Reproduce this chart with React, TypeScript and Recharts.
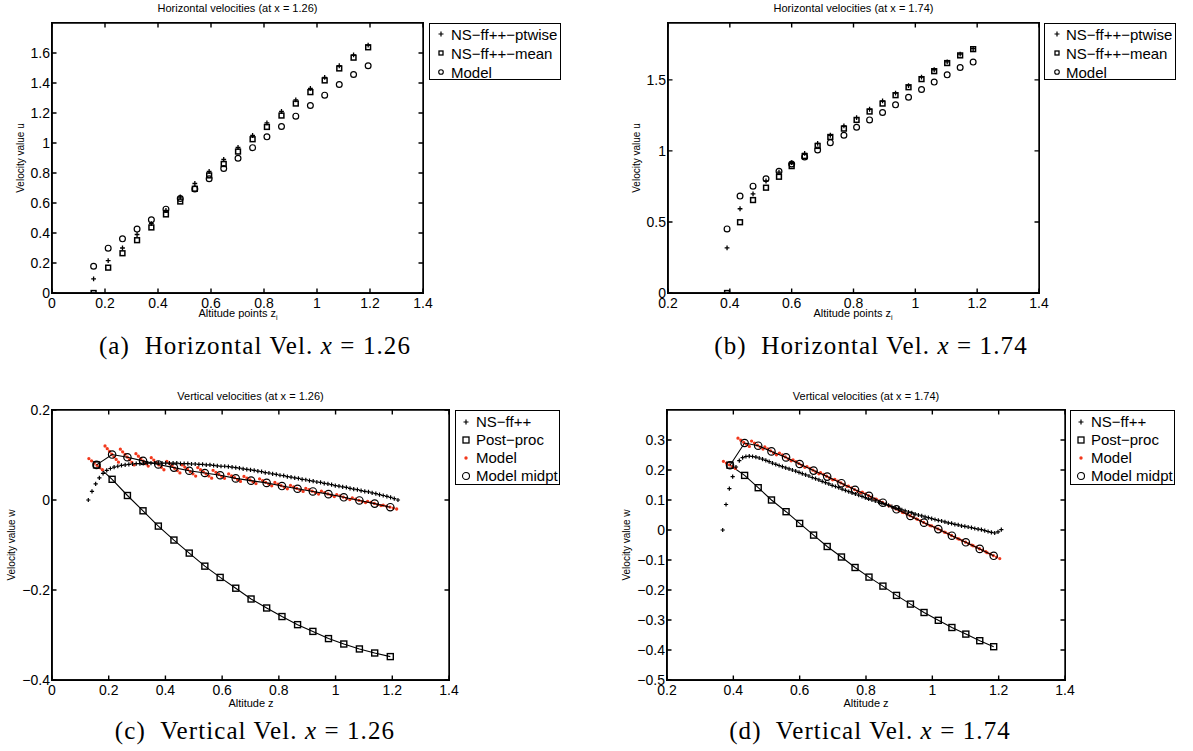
import React from "react";
import { ComposedChart, Line, ReferenceArea, Scatter, XAxis, YAxis } from "recharts";

const SANS = "'Liberation Sans', Arial, Helvetica, sans-serif";
const SERIF = "'Liberation Serif', 'Times New Roman', serif";
const RED = "#f2381c";
const FRAME = 1.4;

// ---------- (a) horizontal velocities at x = 1.26 ----------
const altA = [0.157, 0.212, 0.266, 0.321, 0.375, 0.43, 0.484, 0.539, 0.593, 0.648, 0.702, 0.757, 0.811, 0.866, 0.92, 0.975, 1.029, 1.084, 1.138, 1.193];
const ptwiseA = [0.094, 0.216, 0.3, 0.39, 0.463, 0.55, 0.64, 0.73, 0.81, 0.89, 0.97, 1.05, 1.134, 1.21, 1.288, 1.364, 1.437, 1.515, 1.587, 1.653];
const meanA = [0.0, 0.169, 0.265, 0.352, 0.437, 0.524, 0.61, 0.695, 0.784, 0.86, 0.943, 1.025, 1.107, 1.183, 1.263, 1.339, 1.417, 1.497, 1.569, 1.638];
const modelA = [0.178, 0.299, 0.361, 0.426, 0.488, 0.559, 0.63, 0.693, 0.762, 0.83, 0.898, 0.969, 1.041, 1.11, 1.179, 1.25, 1.319, 1.39, 1.457, 1.515];

// ---------- (b) horizontal velocities at x = 1.74 ----------
const altB = [0.391, 0.433, 0.475, 0.517, 0.559, 0.6, 0.642, 0.684, 0.725, 0.769, 0.81, 0.852, 0.894, 0.936, 0.978, 1.02, 1.061, 1.103, 1.145, 1.187];
const ptwiseB = [0.317, 0.593, 0.698, 0.788, 0.85, 0.917, 0.983, 1.053, 1.11, 1.176, 1.234, 1.293, 1.352, 1.406, 1.46, 1.519, 1.571, 1.627, 1.681, 1.72];
const meanB = [0.0, 0.498, 0.654, 0.741, 0.818, 0.893, 0.964, 1.035, 1.098, 1.157, 1.218, 1.277, 1.333, 1.392, 1.448, 1.505, 1.561, 1.618, 1.672, 1.716];
const modelB = [0.451, 0.682, 0.752, 0.804, 0.856, 0.908, 0.957, 1.006, 1.058, 1.11, 1.166, 1.218, 1.27, 1.324, 1.378, 1.432, 1.484, 1.535, 1.587, 1.625];

// ---------- (c) vertical velocities at x = 1.26 ----------
const nsCX = [
  0.128, 0.141, 0.154, 0.167, 0.18, 0.193, 0.206, 0.219, 0.232, 0.245,
  0.258, 0.271, 0.284, 0.297, 0.31, 0.323, 0.336, 0.349, 0.362, 0.375,
  0.388, 0.401, 0.414, 0.427, 0.44, 0.453, 0.466, 0.479, 0.492, 0.505,
  0.518, 0.531, 0.544, 0.557, 0.57, 0.583, 0.596, 0.609, 0.622, 0.635,
  0.648, 0.661, 0.674, 0.687, 0.7, 0.713, 0.726, 0.739, 0.752, 0.765,
  0.778, 0.791, 0.804, 0.817, 0.83, 0.843, 0.856, 0.869, 0.882, 0.895,
  0.908, 0.921, 0.934, 0.947, 0.96, 0.973, 0.986, 0.999, 1.012, 1.025,
  1.038, 1.051, 1.064, 1.077, 1.09, 1.103, 1.116, 1.129, 1.142, 1.155,
  1.168, 1.181, 1.194, 1.207, 1.22,
];
const nsCW = [
  0.0, 0.019, 0.036, 0.049, 0.059, 0.066, 0.07, 0.073, 0.075, 0.077,
  0.078, 0.079, 0.08, 0.081, 0.081, 0.082, 0.082, 0.082, 0.082, 0.082,
  0.082, 0.082, 0.082, 0.082, 0.082, 0.081, 0.081, 0.081, 0.08, 0.08,
  0.079, 0.079, 0.078, 0.078, 0.077, 0.076, 0.075, 0.075, 0.074, 0.073,
  0.072, 0.071, 0.069, 0.068, 0.067, 0.066, 0.064, 0.063, 0.061, 0.06,
  0.058, 0.057, 0.055, 0.054, 0.052, 0.051, 0.049, 0.048, 0.046, 0.045,
  0.043, 0.042, 0.04, 0.039, 0.037, 0.036, 0.034, 0.032, 0.031, 0.029,
  0.028, 0.026, 0.024, 0.023, 0.021, 0.019, 0.018, 0.016, 0.014, 0.012,
  0.01, 0.008, 0.006, 0.003, 0.0,
];
const midC = [0.157, 0.212, 0.266, 0.321, 0.375, 0.43, 0.484, 0.539, 0.593, 0.648, 0.702, 0.757, 0.811, 0.866, 0.92, 0.975, 1.029, 1.084, 1.138, 1.193];
const postC = [0.078, 0.046, 0.01, -0.024, -0.058, -0.089, -0.118, -0.147, -0.172, -0.196, -0.22, -0.24, -0.259, -0.277, -0.292, -0.308, -0.32, -0.331, -0.34, -0.348];
const midptC = [0.078, 0.101, 0.095, 0.087, 0.079, 0.072, 0.065, 0.06, 0.055, 0.048, 0.043, 0.038, 0.031, 0.025, 0.019, 0.013, 0.006, -0.001, -0.008, -0.016];
const modelCX0 = [0.13, 0.187, 0.241, 0.296, 0.35, 0.405, 0.459, 0.514, 0.568, 0.623, 0.677, 0.732, 0.786, 0.841, 0.895, 0.95, 1.004, 1.059, 1.113, 1.168];
const modelCW0 = [0.092, 0.12, 0.113, 0.103, 0.094, 0.086, 0.078, 0.072, 0.066, 0.058, 0.0525, 0.047, 0.039, 0.0325, 0.026, 0.0195, 0.012, 0.0045, -0.003, -0.0115];
const modelCX1 = [0.182, 0.237, 0.291, 0.346, 0.4, 0.455, 0.509, 0.564, 0.618, 0.673, 0.727, 0.782, 0.836, 0.891, 0.945, 1.0, 1.054, 1.109, 1.163, 1.218];
const modelCW1 = [0.065, 0.082, 0.077, 0.071, 0.064, 0.058, 0.052, 0.048, 0.044, 0.038, 0.0335, 0.029, 0.023, 0.0175, 0.012, 0.0065, 0.0, -0.0065, -0.013, -0.0205];

// ---------- (d) vertical velocities at x = 1.74 ----------
const nsDX = [
  0.368, 0.378, 0.388, 0.398, 0.408, 0.418, 0.428, 0.438, 0.448, 0.458,
  0.468, 0.478, 0.488, 0.498, 0.508, 0.518, 0.528, 0.538, 0.548, 0.558,
  0.568, 0.578, 0.588, 0.598, 0.608, 0.618, 0.628, 0.638, 0.648, 0.658,
  0.668, 0.678, 0.688, 0.698, 0.708, 0.718, 0.728, 0.738, 0.748, 0.758,
  0.768, 0.778, 0.788, 0.798, 0.808, 0.818, 0.828, 0.838, 0.848, 0.858,
  0.868, 0.878, 0.888, 0.898, 0.908, 0.918, 0.928, 0.938, 0.948, 0.958,
  0.968, 0.978, 0.988, 0.998, 1.008, 1.018, 1.028, 1.038, 1.048, 1.058,
  1.068, 1.078, 1.088, 1.098, 1.108, 1.118, 1.128, 1.138, 1.148, 1.158,
  1.168, 1.178, 1.188, 1.198, 1.208,
];
const nsDW = [
  0.0, 0.085, 0.138, 0.178, 0.21, 0.231, 0.241, 0.245, 0.246, 0.245,
  0.243, 0.24, 0.236, 0.232, 0.228, 0.223, 0.219, 0.215, 0.211, 0.207,
  0.204, 0.2, 0.196, 0.192, 0.188, 0.184, 0.18, 0.175, 0.171, 0.167,
  0.162, 0.158, 0.154, 0.149, 0.145, 0.141, 0.136, 0.132, 0.128, 0.124,
  0.12, 0.116, 0.112, 0.108, 0.104, 0.1, 0.097, 0.093, 0.089, 0.085,
  0.082, 0.078, 0.074, 0.071, 0.067, 0.064, 0.06, 0.057, 0.053, 0.05,
  0.047, 0.044, 0.041, 0.038, 0.035, 0.032, 0.03, 0.027, 0.024, 0.022,
  0.019, 0.017, 0.014, 0.012, 0.01, 0.008, 0.005, 0.003, 0.001, -0.002,
  -0.005, -0.008, -0.01, -0.006, 0.001,
];
const midD = [0.39, 0.434, 0.475, 0.515, 0.559, 0.6, 0.642, 0.683, 0.726, 0.767, 0.809, 0.851, 0.892, 0.934, 0.975, 1.018, 1.059, 1.101, 1.143, 1.185];
const postD = [0.216, 0.182, 0.141, 0.1, 0.061, 0.022, -0.017, -0.055, -0.09, -0.125, -0.157, -0.187, -0.218, -0.247, -0.275, -0.301, -0.325, -0.347, -0.369, -0.389];
const midptD = [0.216, 0.29, 0.281, 0.262, 0.242, 0.22, 0.198, 0.178, 0.156, 0.134, 0.114, 0.091, 0.069, 0.047, 0.0245, 0.003, -0.019, -0.041, -0.063, -0.086];
const modelDX0 = [0.37, 0.414, 0.455, 0.495, 0.539, 0.58, 0.622, 0.663, 0.706, 0.747, 0.789, 0.831, 0.872, 0.914, 0.955, 0.998, 1.039, 1.081, 1.123, 1.165];
const modelDW0 = [0.229, 0.306, 0.2965, 0.277, 0.2565, 0.234, 0.2115, 0.191, 0.1685, 0.146, 0.126, 0.1025, 0.0805, 0.058, 0.0355, 0.014, -0.008, -0.0305, -0.0525, -0.0755];
const modelDX1 = [0.41, 0.454, 0.495, 0.535, 0.579, 0.62, 0.662, 0.703, 0.746, 0.787, 0.829, 0.871, 0.912, 0.954, 0.995, 1.038, 1.079, 1.121, 1.163, 1.205];
const modelDW1 = [0.203, 0.274, 0.2655, 0.247, 0.2275, 0.206, 0.1845, 0.165, 0.1435, 0.122, 0.102, 0.0795, 0.0575, 0.036, 0.0135, -0.008, -0.03, -0.0515, -0.0735, -0.096];

// ---------- axes ----------
const ticks0to14 = [0, 0.2, 0.4, 0.6, 0.8, 1, 1.2, 1.4];
const ticks02to14 = [0.2, 0.4, 0.6, 0.8, 1, 1.2, 1.4];
const uTicksA = [0, 0.2, 0.4, 0.6, 0.8, 1, 1.2, 1.4, 1.6];
const uTicksB = [0, 0.5, 1, 1.5];
const wTicksC = [-0.4, -0.2, 0, 0.2];
const wTicksD = [-0.5, -0.4, -0.3, -0.2, -0.1, 0, 0.1, 0.2, 0.3];

const pts = (xs: number[], ys: number[]) => xs.map((x, i) => ({ x, y: ys[i] }));
const segs = (x0: number[], y0: number[], x1: number[], y1: number[]) =>
  x0.flatMap((x, i) => [
    { x, y: y0[i] },
    { x: x1[i], y: y1[i] },
    { x: x1[i], y: null },
  ]);

const fmt = (v: number) => (v < 0 ? "\u2212" + String(-v) : String(v));

// ---------- marker shapes ----------
const plus = (h: number, w: number) => (p: any) => (
  <path d={`M${p.cx - h},${p.cy}H${p.cx + h}M${p.cx},${p.cy - h}V${p.cy + h}`} stroke="#000" strokeWidth={w} fill="none" />
);
const square = (s: number, w: number) => (p: any) => (
  <rect key={`sq${p.index}`} x={p.cx - s / 2} y={p.cy - s / 2} width={s} height={s} stroke="#000" strokeWidth={w} fill="none" />
);
const circle = (r: number, w: number) => (p: any) => (
  <circle key={`ci${p.index}`} cx={p.cx} cy={p.cy} r={r} stroke="#000" strokeWidth={w} fill="none" />
);

type PanelProps = {
  left: number;
  top: number;
  width: number;
  height: number;
  box: [number, number, number, number]; // plot left, top, right, bottom (page px)
  xDomain: [number, number];
  xTicks: number[];
  yDomain: [number, number];
  yTicks: number[];
  children: React.ReactNode;
};

const TICK = 4.5;

function Panel({ left, top, width, height, box, xDomain, xTicks, yDomain, yTicks, children }: PanelProps) {
  const pl = box[0] - left;
  const pt = box[1] - top;
  const pr = box[2] - left;
  const pb = box[3] - top;
  // Matlab style: inward ticks on all four sides, labels outside
  const xTick = (p: any) => (
    <g>
      <path d={`M${p.x},${pb}V${pb - TICK}M${p.x},${pt}V${pt + TICK}`} stroke="#000" strokeWidth={FRAME} fill="none" />
      <text x={p.x} y={pb + 15} textAnchor="middle" fontSize={14} fill="#000" fontFamily={SANS}>
        {fmt(p.payload.value)}
      </text>
    </g>
  );
  const yTick = (p: any) => (
    <g>
      <path d={`M${pl},${p.y}H${pl + TICK}M${pr},${p.y}H${pr - TICK}`} stroke="#000" strokeWidth={FRAME} fill="none" />
      <text x={pl - 2} y={p.y + 5} textAnchor="end" fontSize={14} fill="#000" fontFamily={SANS}>
        {fmt(p.payload.value)}
      </text>
    </g>
  );
  return (
    <div style={{ position: "absolute", left, top, width, height }}>
      <ComposedChart
        width={width}
        height={height}
        margin={{ top: pt, right: width - pr, bottom: 0, left: 0 }}
        style={{ fontFamily: SANS }}
      >
        <XAxis
          xAxisId="b"
          type="number"
          dataKey="x"
          domain={xDomain}
          ticks={xTicks}
          interval={0}
          allowDataOverflow
          height={height - pb}
          axisLine={{ stroke: "#000", strokeWidth: FRAME }}
          tickLine={false}
          tick={xTick}
        />
        <YAxis
          yAxisId="l"
          type="number"
          dataKey="y"
          domain={yDomain}
          ticks={yTicks}
          interval={0}
          allowDataOverflow
          width={pl}
          axisLine={{ stroke: "#000", strokeWidth: FRAME }}
          tickLine={false}
          tick={yTick}
        />
        <ReferenceArea
          xAxisId="b"
          yAxisId="l"
          x1={xDomain[0]}
          x2={xDomain[1]}
          y1={yDomain[0]}
          y2={yDomain[1]}
          fill="none"
          fillOpacity={0}
          stroke="#000"
          strokeWidth={FRAME}
          ifOverflow="visible"
        />
        {children}
      </ComposedChart>
      <div
        style={{
          position: "absolute",
          left: pl - FRAME / 2,
          top: pt - FRAME / 2,
          width: pr - pl + FRAME,
          height: pb - pt + FRAME,
          boxSizing: "border-box",
          border: `${FRAME}px solid #000`,
          pointerEvents: "none",
        }}
      />
    </div>
  );
}

const textAt = (x: number, y: number, size: number, content: React.ReactNode, rotate = false) => (
  <div
    style={{
      position: "absolute",
      left: x,
      top: y,
      transform: `translate(-50%, -50%)${rotate ? " rotate(-90deg)" : ""}`,
      fontFamily: SANS,
      fontSize: size,
      whiteSpace: "nowrap",
      lineHeight: 1,
      color: "#000",
    }}
  >
    {content}
  </div>
);

const caption = (x: number, y: number, tag: string, body: string, val: string) => (
  <div
    style={{
      position: "absolute",
      left: x,
      top: y,
      transform: "translate(-50%, -50%)",
      fontFamily: SERIF,
      fontSize: 25,
      letterSpacing: 1.1,
      whiteSpace: "pre",
      lineHeight: 1,
      color: "#000",
    }}
  >
    {`${tag}  ${body} `}
    <i>x</i>
    {` = ${val}`}
  </div>
);

type Row = { label: string; marker: React.ReactNode };

function LegendBox({ left, top, width, height, rowH, padTop, markerX, textX, rows }: {
  left: number; top: number; width: number; height: number; rowH: number; padTop: number; markerX: number; textX: number; rows: Row[];
}) {
  return (
    <div
      style={{
        position: "absolute",
        left,
        top,
        width,
        height,
        boxSizing: "border-box",
        border: "1.3px solid #000",
        background: "#fff",
        fontFamily: SANS,
        fontSize: 15,
      }}
    >
      {rows.map((r, i) => (
        <div key={r.label} style={{ position: "absolute", left: 0, top: padTop + i * rowH, height: rowH, width: "100%" }}>
          <svg width={12} height={12} style={{ position: "absolute", left: markerX - 6, top: rowH / 2 - 6 }}>
            {r.marker}
          </svg>
          <span style={{ position: "absolute", left: textX, top: 0, lineHeight: `${rowH}px`, whiteSpace: "nowrap" }}>{r.label}</span>
        </div>
      ))}
    </div>
  );
}

const legendPlus = (h: number) => <path d={`M${6 - h},6H${6 + h}M6,${6 - h}V${6 + h}`} stroke="#000" strokeWidth={1.2} />;
const legendSquare = (s: number) => <rect x={6 - s / 2} y={6 - s / 2} width={s} height={s} stroke="#000" strokeWidth={1.3} fill="none" />;
const legendCircle = (r: number) => <circle cx={6} cy={6} r={r} stroke="#000" strokeWidth={1.1} fill="none" />;
const legendDot = <circle cx={6} cy={6} r={1.7} fill={RED} />;

const rowsAB: Row[] = [
  { label: "NS\u2212ff++\u2212ptwise", marker: legendPlus(2.5) },
  { label: "NS\u2212ff++\u2212mean", marker: legendSquare(4) },
  { label: "Model", marker: legendCircle(2.3) },
];
const rowsCD: Row[] = [
  { label: "NS\u2212ff++", marker: legendPlus(2.5) },
  { label: "Post\u2212proc", marker: legendSquare(6) },
  { label: "Model", marker: legendDot },
  { label: "Model midpt", marker: legendCircle(3.5) },
];

function horizontalSeries(alt: number[], ptwise: number[], mean: number[], model: number[]) {
  return [
    <Scatter key="pt" xAxisId="b" yAxisId="l" data={pts(alt, ptwise)} shape={plus(2.4, 1.3)} isAnimationActive={false} />,
    <Scatter key="mean" xAxisId="b" yAxisId="l" data={pts(alt, mean)} shape={square(4.8, 1.5)} isAnimationActive={false} />,
    <Scatter key="model" xAxisId="b" yAxisId="l" data={pts(alt, model)} shape={circle(2.9, 1.2)} isAnimationActive={false} />,
  ];
}

function verticalSeries(
  nsX: number[], nsW: number[], mid: number[], post: number[], midpt: number[],
  x0: number[], w0: number[], x1: number[], w1: number[],
) {
  return [
    <Scatter key="ns" xAxisId="b" yAxisId="l" data={pts(nsX, nsW)} shape={plus(2.1, 1.2)} isAnimationActive={false} />,
    <Line key="post" xAxisId="b" yAxisId="l" data={pts(mid, post)} dataKey="y" type="linear" stroke="#000" strokeWidth={1.1} dot={square(6, 1.4)} activeDot={false} isAnimationActive={false} />,
    <Line key="model" xAxisId="b" yAxisId="l" data={segs(x0, w0, x1, w1)} dataKey="y" type="linear" stroke={RED} strokeWidth={3.3} strokeDasharray="0 3.5" strokeLinecap="round" dot={false} activeDot={false} isAnimationActive={false} />,
    <Line key="midpt" xAxisId="b" yAxisId="l" data={pts(mid, midpt)} dataKey="y" type="linear" stroke="#000" strokeWidth={1.1} dot={circle(3.7, 1.2)} activeDot={false} isAnimationActive={false} />,
  ];
}

export default function App() {
  return (
    <div style={{ position: "absolute", left: 0, top: 0, width: 1193, height: 751, background: "#fff" }}>
      {/* (a) */}
      <Panel left={0} top={0} width={440} height={322} box={[52, 23, 423, 293]} xDomain={[0, 1.4]} xTicks={ticks0to14} yDomain={[0, 1.8]} yTicks={uTicksA}>
        {horizontalSeries(altA, ptwiseA, meanA, modelA)}
      </Panel>
      {textAt(237.5, 8, 11, "Horizontal velocities (at x = 1.26)")}
      {textAt(20.7, 158, 10, "Velocity value u", true)}
      {textAt(238, 314, 11, <span>Altitude points z<sub style={{ fontSize: 7, verticalAlign: -3 }}>i</sub></span>)}
      <LegendBox left={429} top={23} width={132} height={57} rowH={19} padTop={0.5} markerX={11} textX={21} rows={rowsAB} />
      {caption(255, 345, "(a)", "Horizontal Vel.", "1.26")}

      {/* (b) */}
      <Panel left={590} top={0} width={465} height={322} box={[668, 23, 1039, 293]} xDomain={[0.2, 1.4]} xTicks={ticks02to14} yDomain={[0, 1.9]} yTicks={uTicksB}>
        {horizontalSeries(altB, ptwiseB, meanB, modelB)}
      </Panel>
      {textAt(853.5, 8, 11, "Horizontal velocities (at x = 1.74)")}
      {textAt(637, 158, 10, "Velocity value u", true)}
      {textAt(853, 314, 11, <span>Altitude points z<sub style={{ fontSize: 7, verticalAlign: -3 }}>i</sub></span>)}
      <LegendBox left={1044} top={23} width={132} height={57} rowH={19} padTop={0.5} markerX={12} textX={21} rows={rowsAB} />
      {caption(871, 345, "(b)", "Horizontal Vel.", "1.74")}

      {/* (c) */}
      <Panel left={0} top={380} width={465} height={330} box={[52, 410, 449, 680]} xDomain={[0, 1.4]} xTicks={ticks0to14} yDomain={[-0.4, 0.2]} yTicks={wTicksC}>
        {verticalSeries(nsCX, nsCW, midC, postC, midptC, modelCX0, modelCW0, modelCX1, modelCW1)}
      </Panel>
      {textAt(250.5, 396, 11, "Vertical velocities (at x = 1.26)")}
      {textAt(12, 545, 10, "Velocity value w", true)}
      {textAt(251, 703, 11, "Altitude z")}
      <LegendBox left={455} top={410} width={105} height={75} rowH={18} padTop={1.7} markerX={10} textX={20} rows={rowsCD} />
      {caption(255, 730, "(c)", "Vertical Vel.", "1.26")}

      {/* (d) */}
      <Panel left={590} top={380} width={490} height={330} box={[667, 410, 1065, 680]} xDomain={[0.2, 1.4]} xTicks={ticks02to14} yDomain={[-0.5, 0.4]} yTicks={wTicksD}>
        {verticalSeries(nsDX, nsDW, midD, postD, midptD, modelDX0, modelDW0, modelDX1, modelDW1)}
      </Panel>
      {textAt(866, 396, 11, "Vertical velocities (at x = 1.74)")}
      {textAt(627, 545, 10, "Velocity value w", true)}
      {textAt(866, 703, 11, "Altitude z")}
      <LegendBox left={1070} top={410} width={105} height={75} rowH={18} padTop={1.7} markerX={10} textX={20} rows={rowsCD} />
      {caption(870, 730, "(d)", "Vertical Vel.", "1.74")}
    </div>
  );
}
